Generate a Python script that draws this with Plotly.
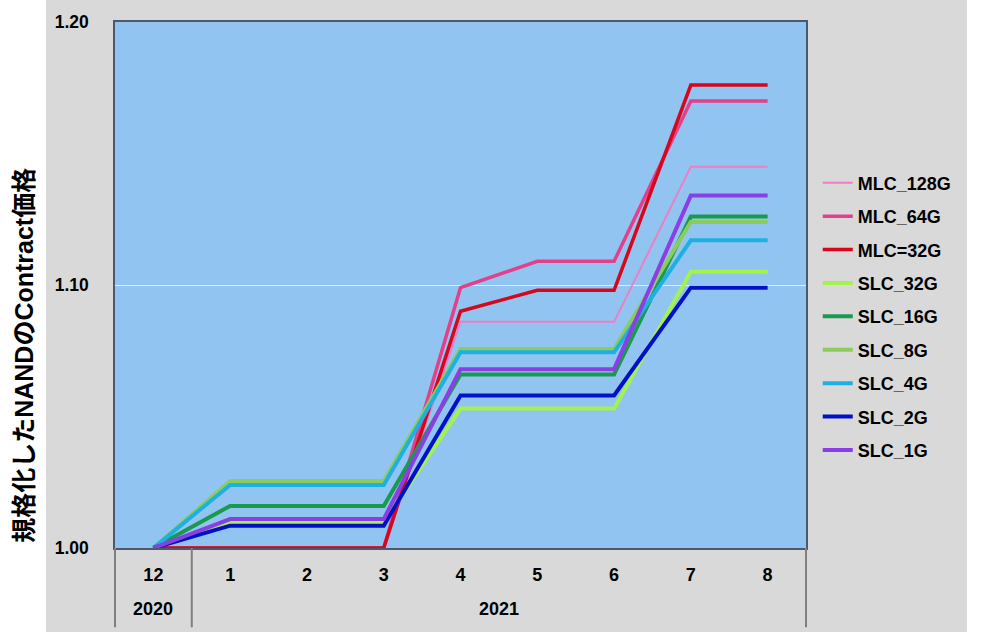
import plotly.graph_objects as go

# categories
months = ["12", "1", "2", "3", "4", "5", "6", "7", "8"]
year_labels = ["2020", "2021"]
year_centres = [0, 4.5]  # category index at the middle of each year group

# normalised contract prices
mlc_128g = [1.000, 1.000, 1.000, 1.000, 1.086, 1.086, 1.086, 1.145, 1.145]
mlc_64g = [1.000, 1.000, 1.000, 1.000, 1.099, 1.109, 1.109, 1.170, 1.170]
mlc_32g = [1.000, 1.000, 1.000, 1.000, 1.090, 1.098, 1.098, 1.176, 1.176]
slc_32g = [1.000, 1.0098, 1.0098, 1.0098, 1.053, 1.053, 1.053, 1.105, 1.105]
slc_16g = [1.000, 1.016, 1.016, 1.016, 1.066, 1.066, 1.066, 1.126, 1.126]
slc_8g = [1.000, 1.0255, 1.0255, 1.0255, 1.0757, 1.0757, 1.0757, 1.124, 1.124]
slc_4g = [1.000, 1.024, 1.024, 1.024, 1.0744, 1.0744, 1.0744, 1.117, 1.117]
slc_2g = [1.000, 1.0085, 1.0085, 1.0085, 1.058, 1.058, 1.058, 1.099, 1.099]
slc_1g = [1.000, 1.011, 1.011, 1.011, 1.068, 1.068, 1.068, 1.134, 1.134]

y_ticks = [1.00, 1.10, 1.20]

series = [
    ("MLC_128G", mlc_128g, "#f07cc6", 2),
    ("MLC_64G", mlc_64g, "#e2408a", 3.5),
    ("MLC=32G", mlc_32g, "#d8061a", 3.5),
    ("SLC_32G", slc_32g, "#a4f24c", 4),
    ("SLC_16G", slc_16g, "#1a9a4e", 4),
    ("SLC_8G", slc_8g, "#8ccc5c", 4),
    ("SLC_4G", slc_4g, "#1eb0e0", 4),
    ("SLC_2G", slc_2g, "#0010c8", 4),
    ("SLC_1G", slc_1g, "#8a3ee6", 4),
]

fig = go.Figure()
for name, vals, col, w in series:
    fig.add_trace(
        go.Scatter(
            x=months,
            y=vals,
            name=name,
            mode="lines",
            line=dict(color=col, width=w),
            legendgroup=name,
        )
    )

font_fam = "Liberation Sans, Arial, Noto Sans CJK JP"
gray = "#d9d9d9"

fig.update_layout(
    width=1000,
    height=632,
    margin=dict(l=115, r=194, t=17, b=84),
    paper_bgcolor=gray,
    plot_bgcolor="#92c4f2",
    font=dict(family=font_fam, size=18, color="black"),
    showlegend=True,
    legend=dict(
        x=1.017,
        y=0.729,
        xanchor="left",
        yanchor="top",
        bgcolor="rgba(0,0,0,0)",
        traceorder="grouped",
        tracegroupgap=7,
        font=dict(family=font_fam, size=18, weight="bold"),
    ),
    xaxis=dict(
        type="category",
        range=[-0.5, 8.5],
        showline=True,
        linecolor="#4a5a6a",
        linewidth=1.5,
        mirror=True,
        showgrid=False,
        ticks="",
        ticklabelstandoff=10,
        tickfont=dict(size=18, weight="bold"),
    ),
    yaxis=dict(
        range=[1.0, 1.2],
        tickvals=y_ticks,
        tickformat=".2f",
        showline=True,
        linecolor="#4a5a6a",
        linewidth=1.5,
        mirror=True,
        showgrid=True,
        gridcolor="#dcecfb",
        gridwidth=1,
        zeroline=False,
        ticks="",
        ticklabelstandoff=21,
        tickfont=dict(size=17.5, weight="bold"),
    ),
)

# year labels under the month labels
for lab, pos in zip(year_labels, year_centres):
    fig.add_annotation(
        text=lab, x=pos, xref="x", y=-62 / 531, yref="paper",
        xanchor="center", yanchor="middle",
        showarrow=False, font=dict(size=18, weight="bold"),
    )

# group dividers below the plot (left edge, 2020|2021, right edge)
div_bottom = -80 / 531
for xp in [0, 1 / 9, 1]:
    fig.add_shape(type="line", xref="paper", yref="paper",
                  x0=xp, x1=xp, y0=0, y1=div_bottom,
                  line=dict(color="#7f7f7f", width=2))

# white strips outside the grey chart area
fig.add_shape(type="rect", xref="paper", yref="paper",
              x0=-0.2, x1=(46 - 115) / 691, y0=-0.2, y1=1.1,
              fillcolor="white", line_width=0, layer="below")
fig.add_shape(type="rect", xref="paper", yref="paper",
              x0=(967 - 115) / 691, x1=1.4, y0=-0.2, y1=1.1,
              fillcolor="white", line_width=0, layer="below")

# y axis title
fig.add_annotation(
    text="規格化したNANDのContract価格",
    xref="paper", yref="paper",
    x=(24 - 115) / 691, y=(548 - 354) / 531,
    xanchor="center", yanchor="middle",
    textangle=-90, showarrow=False,
    font=dict(family=font_fam, size=25, weight="bold", color="black"),
)

fig.write_html(
    "out.html",
    config={"displayModeBar": False},
    post_script="document.body.style.margin='0';",
)
